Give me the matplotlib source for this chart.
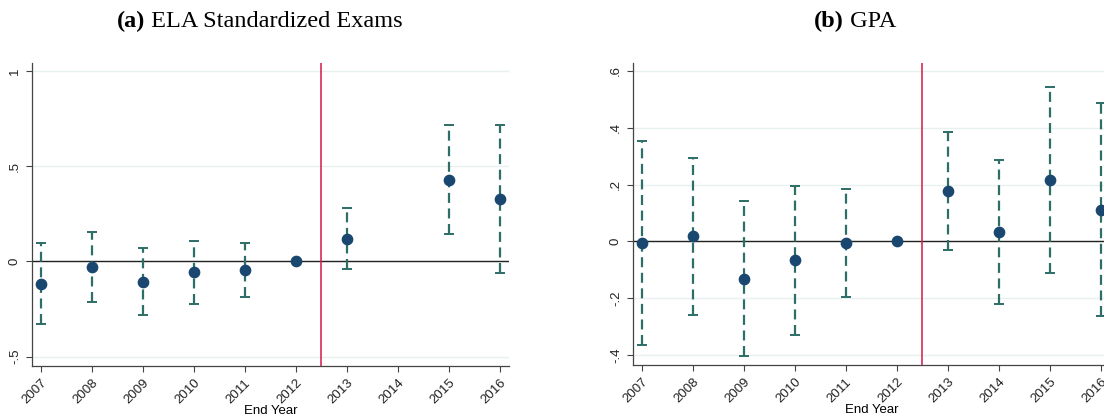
import numpy as np
import matplotlib.pyplot as plt

years = [2007, 2008, 2009, 2010, 2011, 2012, 2013, 2014, 2015, 2016]

# ELA standardized exams (2014 missing)
ela_coef = [-0.116, -0.028, -0.107, -0.056, -0.047, 0.0, 0.117, np.nan, 0.430, 0.330]
ela_hi = [0.095, 0.156, 0.070, 0.105, 0.098, np.nan, 0.279, np.nan, 0.714, 0.719]
ela_lo = [-0.326, -0.214, -0.282, -0.221, -0.186, np.nan, -0.042, np.nan, 0.146, -0.061]

# GPA
gpa_coef = [-0.006, 0.018, -0.131, -0.067, -0.006, 0.0, 0.176, 0.033, 0.216, 0.109]
gpa_hi = [0.355, 0.292, 0.144, 0.196, 0.186, np.nan, 0.385, 0.288, 0.544, 0.488]
gpa_lo = [-0.366, -0.260, -0.405, -0.330, -0.196, np.nan, -0.029, -0.220, -0.111, -0.264]

ela_yticks = [-0.5, 0, 0.5, 1]
ela_ylabels = ["-.5", "0", ".5", "1"]
gpa_yticks = [-0.4, -0.2, 0, 0.2, 0.4, 0.6]
gpa_ylabels = ["-.4", "-.2", "0", ".2", ".4", ".6"]

NAVY = "#1a476f"
TEAL = "#2d6e67"
RED = "#d7184a"
SERIF = ["Liberation Serif", "DejaVu Serif"]
SANS = ["Liberation Sans", "DejaVu Sans"]


def panel(ax, coef, hi, lo, yticks, ylabels, ylim):
    x = np.array(years, dtype=float)
    c = np.array(coef, dtype=float)
    h = np.array(hi, dtype=float)
    l = np.array(lo, dtype=float)
    ok = ~np.isnan(h)
    mid = (h[ok] + l[ok]) / 2
    eb = ax.errorbar(x[ok], mid, yerr=(h[ok] - l[ok]) / 2, fmt="none",
                     ecolor=TEAL, elinewidth=1.6, capsize=3.5, capthick=1.4, zorder=3)
    eb[2][0].set_linestyle((0, (4.5, 2.5)))
    okc = ~np.isnan(c)
    ax.scatter(x[okc], c[okc], s=55, color=NAVY, zorder=4)

    ax.axhline(0, color="#222222", lw=1.0, zorder=2)
    ax.axvline(2012.5, color=RED, lw=1.1, zorder=2)
    for t in yticks:
        ax.axhline(t, color="#e8f0f0", lw=1.0, zorder=0)

    ax.set_xlim(2006.83, 2016.18)
    ax.set_ylim(*ylim)
    ax.set_xticks(years)
    ax.set_xticklabels([str(y) for y in years], rotation=45, ha="right",
                       rotation_mode="anchor", fontsize=9.5, color="#222222", family=SANS)
    ax.set_yticks(yticks)
    ax.set_yticklabels(ylabels, rotation=90, va="center", fontsize=9.5, color="#222222",
                       family=SANS)
    ax.tick_params(direction="out", length=4, width=0.8, color="#444444", pad=4)
    ax.set_xlabel("End Year", fontsize=9.5, labelpad=-1, family=SANS)
    for s in ["top", "right"]:
        ax.spines[s].set_visible(False)
    for s in ["left", "bottom"]:
        ax.spines[s].set_color("#444444")
        ax.spines[s].set_linewidth(0.9)


def title(fig, xc, tag, text):
    # bold tag followed by regular text, centred on xc (pixels)
    r = fig.canvas.get_renderer()
    t1 = fig.text(0, 0.935, tag, fontsize=17.5, fontweight="bold", family=SERIF,
                  va="baseline")
    t2 = fig.text(0, 0.935, " " + text, fontsize=17.5, family=SERIF, va="baseline")
    w1 = t1.get_window_extent(r).width
    w2 = t2.get_window_extent(r).width
    x0 = xc - (w1 + w2) / 2
    t1.set_x(x0 / 1104)
    t2.set_x((x0 + w1) / 1104)


fig = plt.figure(figsize=(11.04, 4.2), dpi=100)
ax1 = fig.add_axes([32 / 1104, 54 / 420, 477 / 1104, 303 / 420])
ax2 = fig.add_axes([633 / 1104, 55 / 420, 477 / 1104, 302 / 420])

panel(ax1, ela_coef, ela_hi, ela_lo, ela_yticks, ela_ylabels, (-0.549, 1.042))
panel(ax2, gpa_coef, gpa_hi, gpa_lo, gpa_yticks, gpa_ylabels, (-0.435, 0.628))

title(fig, 260, "(a)", "ELA Standardized Exams")
title(fig, 855, "(b)", "GPA")

fig.savefig("out.png", dpi=100)
